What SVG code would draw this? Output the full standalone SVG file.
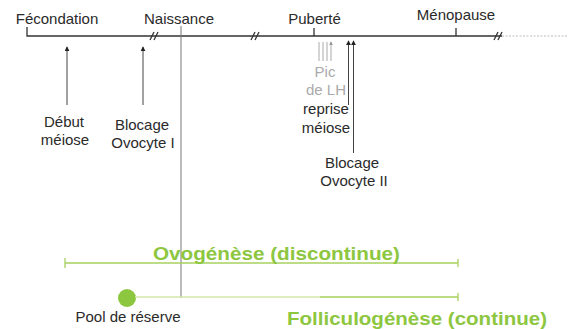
<svg xmlns="http://www.w3.org/2000/svg" width="568" height="329" viewBox="0 0 568 329">
<defs>
<marker id="ah" viewBox="0 0 6 6" refX="5" refY="3" markerWidth="5" markerHeight="5" orient="auto" markerUnits="userSpaceOnUse"><path d="M0,0 L6,3 L0,6 Z" fill="#222"/></marker>
<marker id="ahg" viewBox="0 0 6 6" refX="5" refY="3" markerWidth="4" markerHeight="4" orient="auto" markerUnits="userSpaceOnUse"><path d="M0,0 L6,3 L0,6 Z" fill="#999"/></marker>
</defs>
<style>
.t{font-family:"Liberation Sans",Arial,sans-serif;font-size:15px;fill:#2a2a2a;text-anchor:middle}
.g{font-family:"Liberation Sans",Arial,sans-serif;font-size:19px;font-weight:bold;fill:#8dc63f;text-anchor:middle}
.ln{stroke:#333;stroke-width:1.3;fill:none}
.ar{stroke:#444;stroke-width:1;fill:none;marker-end:url(#ah)}
.arg{stroke:#aaa;stroke-width:1;fill:none;marker-end:url(#ahg)}
.gl{stroke:#a6d15f;stroke-width:1.3;fill:none}
</style>
<rect width="568" height="329" fill="#fff"/>
<g id="timeline">
<path class="ln" d="M27,27 V36 H150 M158,36 H250 M258,36 H494 M314,28 V36 M456,28 V36"/>
<path class="ln" d="M150,40 L154,32 M154,40 L158,32 M251,40 L255,32 M255,40 L259,32 M494,40 L498,32 M498,40 L502,32" stroke-width="1.2"/>
<path class="ln" d="M150,36 H158 M250,36 H258 M494,36 H502" stroke-width="1"/>
<path d="M502,36 H568" stroke="#bbb" stroke-width="1" stroke-dasharray="2,1.5"/>
<path d="M181,26 V298" stroke="#777" stroke-width="1"/>
</g>
<g id="labels-top">
<text class="t" x="57" y="24">Fécondation</text>
<text class="t" x="179" y="24">Naissance</text>
<text class="t" x="314.5" y="24">Puberté</text>
<text class="t" x="456" y="20">Ménopause</text>
</g>
<g id="connectors">
<path class="ar" d="M67,105 V47"/>
<path class="ar" d="M143,105 V47"/>
<path class="arg" d="M319,61 V42 M323,61 V42 M327,61 V42 M331,61 V42"/>
<path class="ar" d="M348.5,105 V41"/>
<path class="ar" d="M353.5,153 V41"/>
</g>
<g id="debut-meiose"><text class="t" x="64" y="127">Début</text><text class="t" x="65" y="145">méiose</text></g>
<g id="blocage-ovocyte-1"><text class="t" x="142" y="130">Blocage</text><text class="t" x="143" y="148">Ovocyte I</text></g>
<g id="pic-lh"><text class="t" x="325" y="77" style="fill:#aaa">Pic</text><text class="t" x="326" y="95" style="fill:#aaa">de LH</text></g>
<g id="reprise-meiose"><text class="t" x="326" y="114">reprise</text><text class="t" x="326" y="133">méiose</text></g>
<g id="blocage-ovocyte-2"><text class="t" x="352" y="168">Blocage</text><text class="t" x="354" y="186">Ovocyte II</text></g>
<g id="ovogenese">
<path class="gl" d="M65,258 V268 M65,263 H458 M458,259 V267"/>
<text class="g" x="276.5" y="260" textLength="247" lengthAdjust="spacingAndGlyphs">Ovogénèse (discontinue)</text>
</g>
<g id="folliculogenese">
<circle cx="127" cy="298" r="9" fill="#8dc63f"/>
<path d="M135,297 H320" stroke="#d3e8ad" stroke-width="1.3"/>
<path class="gl" d="M320,297 H458 M458,293 V301"/>
<text class="t" x="128" y="322">Pool de réserve</text>
<text class="g" x="417" y="325" textLength="260" lengthAdjust="spacingAndGlyphs">Folliculogénèse (continue)</text>
</g>
</svg>
